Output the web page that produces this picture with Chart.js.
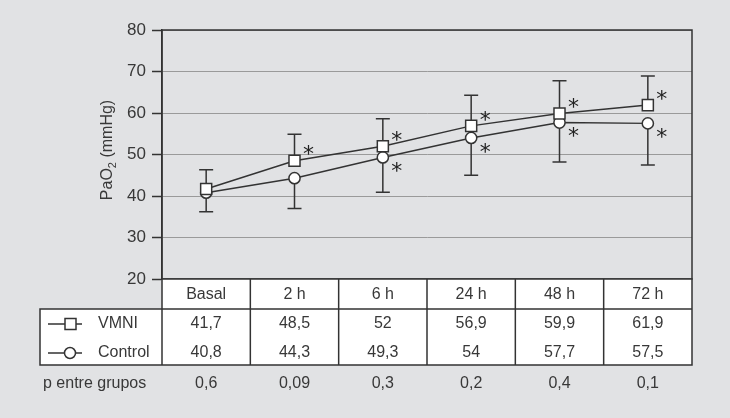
<!DOCTYPE html>
<html>
<head>
<meta charset="utf-8">
<script src="https://cdn.jsdelivr.net/npm/chart.js@4"></script>
<style>
  html, body { margin: 0; padding: 0; background: #e1e2e4; }
  #wrap { width: 730px; height: 418px; }
</style>
</head>
<body>
<div id="wrap"><canvas id="pao2Chart" width="730" height="418"></canvas></div>
<script>
// datos
const categorias = ["Basal", "2 h", "6 h", "24 h", "48 h", "72 h"];
const vmni = [41.7, 48.5, 52, 56.9, 59.9, 61.9];
const control = [40.8, 44.3, 49.3, 54, 57.7, 57.5];
const vmniSup = [46.3, 54.9, 58.6, 64.3, 67.8, 68.9];      // extremo superior barra de error
const controlInf = [36.2, 37.0, 40.9, 45.0, 48.2, 47.5];   // extremo inferior barra de error
const pEntreGrupos = ["0,6", "0,09", "0,3", "0,2", "0,4", "0,1"];
const vmniSig = [false, true, true, true, true, true];
const controlSig = [false, false, true, true, true, true];
const yTicks = [20, 30, 40, 50, 60, 70, 80];

const txtColor = "#383838";
const lineColor = "#333";
const fuente = "16px 'Liberation Sans', Arial, sans-serif";

function coma(v) {
    return v.toString().replace(".", ",");
}

const barrasError = {
    id: "barrasError",
    beforeDatasetsDraw(chart) {
        const ctx = chart.ctx;
        const x = chart.scales.x;
        const y = chart.scales.y;
        ctx.save();
        ctx.strokeStyle = lineColor;
        ctx.lineWidth = 1.5;
        categorias.forEach((c, i) => {
            const px = x.getPixelForValue(i);
            // VMNI hacia arriba
            let y0 = y.getPixelForValue(vmni[i]);
            let y1 = y.getPixelForValue(vmniSup[i]);
            ctx.beginPath();
            ctx.moveTo(px, y0); ctx.lineTo(px, y1);
            ctx.moveTo(px - 7, y1); ctx.lineTo(px + 7, y1);
            ctx.stroke();
            // Control hacia abajo
            y0 = y.getPixelForValue(control[i]);
            y1 = y.getPixelForValue(controlInf[i]);
            ctx.beginPath();
            ctx.moveTo(px, y0); ctx.lineTo(px, y1);
            ctx.moveTo(px - 7, y1); ctx.lineTo(px + 7, y1);
            ctx.stroke();
        });
        ctx.restore();
    },
    afterDatasetsDraw(chart) {
        const ctx = chart.ctx;
        const x = chart.scales.x;
        const y = chart.scales.y;
        const a = chart.chartArea;
        ctx.save();
        // marco del grafico
        ctx.strokeStyle = lineColor;
        ctx.lineWidth = 1.5;
        ctx.strokeRect(a.left, a.top, a.right - a.left, a.bottom - a.top);
        // asteriscos
        ctx.fillStyle = "#222";
        ctx.font = "22px 'DejaVu Sans', sans-serif";
        ctx.textAlign = "center";
        ctx.textBaseline = "middle";
        categorias.forEach((c, i) => {
            const px = x.getPixelForValue(i);
            if (vmniSig[i]) ctx.fillText("*", px + 14, y.getPixelForValue(vmni[i]) - 5);
            if (controlSig[i]) ctx.fillText("*", px + 14, y.getPixelForValue(control[i]) + 15);
        });
        // titulo eje y con subindice
        ctx.translate(106, 150);
        ctx.rotate(-Math.PI / 2);
        ctx.fillStyle = txtColor;
        ctx.textBaseline = "alphabetic";
        ctx.textAlign = "left";
        const t1 = "PaO", t2 = "2", t3 = " (mmHg)";
        ctx.font = fuente;
        const w1 = ctx.measureText(t1).width;
        const w3 = ctx.measureText(t3).width;
        ctx.font = "11px 'Liberation Sans', Arial, sans-serif";
        const w2 = ctx.measureText(t2).width;
        const start = -(w1 + w2 + w3) / 2;
        ctx.font = fuente;
        ctx.fillText(t1, start, 6);
        ctx.font = "11px 'Liberation Sans', Arial, sans-serif";
        ctx.fillText(t2, start + w1, 10);
        ctx.font = fuente;
        ctx.fillText(t3, start + w1 + w2, 6);
        ctx.restore();
    }
};

const tabla = {
    id: "tabla",
    afterDraw(chart) {
        const ctx = chart.ctx;
        const x = chart.scales.x;
        const a = chart.chartArea;
        const izq = 40;
        const top = a.bottom;
        const filaCab = top + 30;
        const fondo = top + 86;
        const centros = categorias.map((c, i) => x.getPixelForValue(i));
        const paso = centros[1] - centros[0];
        ctx.save();
        ctx.fillStyle = "#fff";
        ctx.fillRect(a.left, top, a.right - a.left, filaCab - top);
        ctx.fillRect(izq, filaCab, a.right - izq, fondo - filaCab);
        ctx.strokeStyle = lineColor;
        ctx.lineWidth = 1.5;
        ctx.beginPath();
        ctx.moveTo(a.left, top); ctx.lineTo(a.right, top);
        ctx.lineTo(a.right, fondo); ctx.lineTo(izq, fondo);
        ctx.lineTo(izq, filaCab); ctx.lineTo(a.right, filaCab);
        ctx.moveTo(a.left, top); ctx.lineTo(a.left, fondo);
        for (let i = 1; i < centros.length; i++) {
            const dx = centros[i] - paso / 2;
            ctx.moveTo(dx, top); ctx.lineTo(dx, fondo);
        }
        ctx.stroke();

        ctx.fillStyle = txtColor;
        ctx.font = fuente;
        ctx.textAlign = "center";
        ctx.textBaseline = "middle";
        const yCab = top + 16, yV = filaCab + 15, yC = filaCab + 44, yP = fondo + 19;
        categorias.forEach((c, i) => {
            ctx.fillText(c, centros[i], yCab);
            ctx.fillText(coma(vmni[i]), centros[i], yV);
            ctx.fillText(coma(control[i]), centros[i], yC);
            ctx.fillText(pEntreGrupos[i], centros[i], yP);
        });
        ctx.textAlign = "left";
        ctx.fillText("VMNI", 98, yV);
        ctx.fillText("Control", 98, yC);
        ctx.fillText("p entre grupos", 43, yP);
        // simbolos de leyenda
        ctx.lineWidth = 1.5;
        ctx.beginPath();
        ctx.moveTo(48, yV); ctx.lineTo(82, yV);
        ctx.moveTo(48, yC); ctx.lineTo(82, yC);
        ctx.stroke();
        ctx.fillStyle = "#fff";
        ctx.fillRect(65, yV - 5.5, 11, 11);
        ctx.strokeRect(65, yV - 5.5, 11, 11);
        ctx.beginPath();
        ctx.arc(70, yC, 5.5, 0, Math.PI * 2);
        ctx.fill();
        ctx.stroke();
        ctx.restore();
    }
};

const config = {
    type: "line",
    data: {
        labels: categorias,
        datasets: [
            {
                label: "VMNI",
                data: vmni,
                borderColor: lineColor,
                borderWidth: 1.5,
                pointStyle: "rect",
                pointRadius: 7.8,
                pointBackgroundColor: "#fff",
                pointBorderColor: lineColor,
                pointBorderWidth: 1.5,
                tension: 0,
            },
            {
                label: "Control",
                data: control,
                borderColor: lineColor,
                borderWidth: 1.5,
                pointStyle: "circle",
                pointRadius: 5.6,
                pointBackgroundColor: "#fff",
                pointBorderColor: lineColor,
                pointBorderWidth: 1.5,
                tension: 0,
            },
        ],
    },
    options: {
        responsive: false,
        animation: false,
        layout: { padding: { left: 0, top: 30, right: 38, bottom: 139 } },
        plugins: { legend: { display: false }, tooltip: { enabled: false } },
        scales: {
            x: { type: "category", display: false, offset: true },
            y: {
                min: 20,
                max: 80,
                afterBuildTicks(scale) {
                    scale.ticks = yTicks.map((v) => ({ value: v }));
                },
                afterFit(scale) {
                    scale.width = 162;
                },
                border: { display: true, color: lineColor, width: 1.5 },
                grid: {
                    color: "#9a9a9a",
                    lineWidth: 1,
                    drawTicks: true,
                    tickLength: 10,
                    tickColor: lineColor,
                    tickWidth: 1.5,
                },
                ticks: {
                    color: txtColor,
                    padding: 6,
                    font: { family: "'Liberation Sans', Arial, sans-serif", size: 17 },
                },
            },
        },
    },
    plugins: [barrasError, tabla],
};

const pao2Chart = new Chart(document.getElementById("pao2Chart"), config);
</script>
</body>
</html>
